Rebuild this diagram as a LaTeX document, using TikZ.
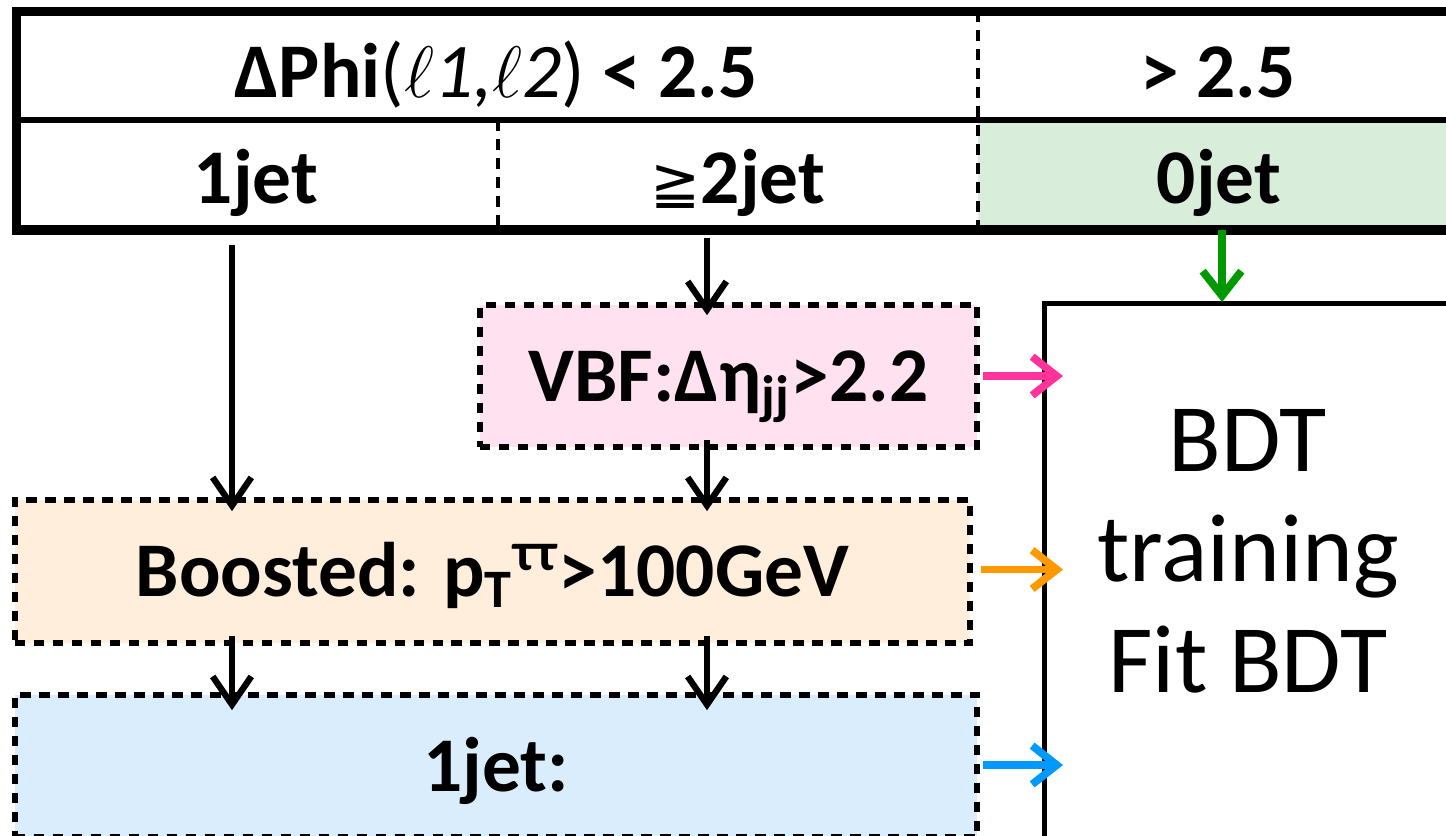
\documentclass[tikz,border=0pt]{standalone}
\usepackage{fontspec}
\setmainfont{Carlito}
\newfontfamily\dvsym{DejaVu Sans}
\usepackage{tikz}
\usetikzlibrary{calc,arrows.meta,positioning}
\definecolor{pinkfill}{HTML}{FFE1EF}
\definecolor{orangefill}{HTML}{FFEEDB}
\definecolor{bluefill}{HTML}{D9EDFC}
\definecolor{greenfill}{HTML}{D9EEDA}
\definecolor{pinkline}{HTML}{FF3399}
\definecolor{orangeline}{HTML}{FF9900}
\definecolor{blueline}{HTML}{0099FF}
\definecolor{greenline}{HTML}{009900}
\tikzset{
  cell/.style={inner sep=0pt, anchor=base, font=\bfseries\fontsize{22}{24}\selectfont},
  cutbox/.style={draw=black, line width=1.6pt, dash pattern=on 3pt off 2.4pt,
    inner sep=0pt, text height=0.5cm, text depth=0pt, font=\bfseries\fontsize{22}{24}\selectfont},
  bdtbox/.style={draw=black, line width=1.4pt, inner sep=0pt},
  bdttext/.style={align=center, inner sep=0pt, font=\fontsize{27.5}{31.3}\selectfont},
  frame/.style={draw=black, line width=2.6pt},
  midline/.style={draw=black, line width=1.6pt},
  divline/.style={draw=black, line width=1.2pt, dash pattern=on 3.2pt off 2.2pt},
  arr/.style={-{Straight Barb[length=8pt,width=11pt]}, line width=1.8pt},
  arrc/.style={-{Straight Barb[length=7pt,width=11pt]}, line width=2.2pt, draw=#1},
}
\begin{document}
\begin{tikzpicture}[x=0.01cm, y=-0.01cm]
  \useasboundingbox (0,0) rectangle (1446,835);
  \clip (0,0) rectangle (1446,835);

  % table of the cuts
  \fill[greenfill] (978,120) rectangle (1460,230);
  \draw[divline] (978,11) -- (978,230);
  \draw[divline] (498,120) -- (498,230);
  \draw[midline] (16,120) -- (1460,120);
  \draw[frame] (16.5,11.5) rectangle (1460,230);

  \node[cell] (hdrlo) at (496,97) {ΔPhi{\mdseries(\textit{$\ell$1,$\ell$2})} < 2.5};
  \node[cell] (hdrhi) at (1218,97) {> 2.5};
  \node[cell] (c1jet) at (256,203) {1jet};
  \node[cell] (c2jet) at (738,203) {{\dvsym\mdseries\fontsize{17}{17}\selectfont ≧}2jet};
  \node[cell] (c0jet) at (1219,203) {0jet};

  % categories
  \node[cutbox, fill=pinkfill, minimum width=4.97cm, minimum height=1.42cm] (vbf) at (728.5,376)
    {VBF:Δη\textsubscript{jj}>2.2};
  \node[cutbox, fill=orangefill, minimum width=9.55cm, minimum height=1.43cm] (boost) at (492.5,571.5)
    {Boosted: p\textsubscript{T}\textsuperscript{ττ}>100GeV};
  \node[cutbox, fill=bluefill, minimum width=9.62cm, minimum height=1.42cm] (onejet) at (496,766)
    {1jet:};

  % BDT
  \node[bdtbox, minimum width=4.12cm, minimum height=5.6cm, anchor=north west] (bdt) at (1042,301) {};
  \node[bdttext, anchor=base] (bdtlbl) at (1248,692) {BDT\\training\\Fit BDT};

  % arrows
  \coordinate (colA) at (232,0);
  \coordinate (colB) at (707,0);
  \draw[arr] ($(colA |- c1jet.base)+(0,42)$) -- ($(colA |- boost.north)+(0,14)$);
  \draw[arr] ($(colB |- c2jet.base)+(0,35)$) -- ($(colB |- vbf.north)+(0,13)$);
  \draw[arr] ($(colB |- vbf.south)+(0,-10)$) -- ($(colB |- boost.north)+(0,14)$);
  \foreach \c in {colA,colB}
    \draw[arr] ($(\c |- boost.south)+(0,-10)$) -- ($(\c |- onejet.north)+(0,18)$);
  \draw[arrc=greenline] ($(c0jet.base)+(3,27)$) -- ($(bdt.north -| c0jet.base)+(3,1)$);
  \draw[arrc=pinkline] ($(vbf.east)+(3,0)$) -- ($(bdt.west |- vbf.east)+(21,0)$);
  \draw[arrc=orangeline] ($(boost.east)+(8,-2)$) -- ($(bdt.west |- boost.east)+(21,-2)$);
  \draw[arrc=blueline] ($(onejet.east)+(3,-1)$) -- ($(bdt.west |- onejet.east)+(21,-1)$);
\end{tikzpicture}
\end{document}
